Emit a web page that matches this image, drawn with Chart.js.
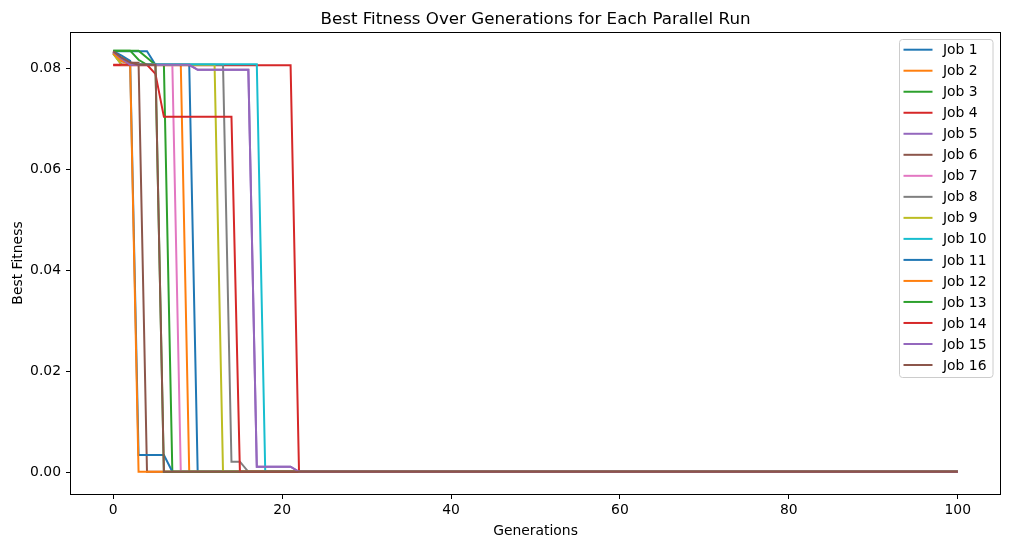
<!DOCTYPE html>
<html>
<head>
<meta charset="utf-8">
<title>Best Fitness Over Generations</title>
<script src="https://cdn.jsdelivr.net/npm/chart.js@4.4.0/dist/chart.umd.min.js"></script>
<style>
  html, body { margin: 0; padding: 0; background: #fff; }
  #wrap { width: 1010px; height: 547px; }
</style>
</head>
<body>
<div id="wrap"><canvas id="fitnessChart" width="1010" height="547"></canvas></div>
<script>
// best fitness per generation (gens 0..22), after that every run stays flat to gen 100
const lastGeneration = 100;
const job1  = [0.0835, 0.0835, 0.0835, 0.0835, 0.0835, 0.0808, 0.0808, 0.0808, 0.0808, 0.0808, 0.0002, 0.0002, 0.0002, 0.0002, 0.0002, 0.0002, 0.0002, 0.0002, 0.0002, 0.0002, 0.0002, 0.0002, 0.0002];
const job2  = [0.0833, 0.0818, 0.0808, 0.0808, 0.0808, 0.0808, 0.0808, 0.0808, 0.0808, 0.0002, 0.0002, 0.0002, 0.0002, 0.0002, 0.0002, 0.0002, 0.0002, 0.0002, 0.0002, 0.0002, 0.0002, 0.0002, 0.0002];
const job3  = [0.0836, 0.0836, 0.0836, 0.0836, 0.0822, 0.0808, 0.0808, 0.0002, 0.0002, 0.0002, 0.0002, 0.0002, 0.0002, 0.0002, 0.0002, 0.0002, 0.0002, 0.0002, 0.0002, 0.0002, 0.0002, 0.0002, 0.0002];
const job4  = [0.0807, 0.0807, 0.0807, 0.0807, 0.0807, 0.0807, 0.0807, 0.0807, 0.0807, 0.0807, 0.0807, 0.0807, 0.0807, 0.0807, 0.0807, 0.0807, 0.0807, 0.0807, 0.0807, 0.0807, 0.0807, 0.0807, 0.0002];
const job5  = [0.0832, 0.0818, 0.0808, 0.0808, 0.0808, 0.0808, 0.0808, 0.0808, 0.0808, 0.0808, 0.0798, 0.0798, 0.0798, 0.0798, 0.0798, 0.0798, 0.0798, 0.0012, 0.0012, 0.0012, 0.0012, 0.0012, 0.0002];
const job6  = [0.0834, 0.0815, 0.0812, 0.0812, 0.0002, 0.0002, 0.0002, 0.0002, 0.0002, 0.0002, 0.0002, 0.0002, 0.0002, 0.0002, 0.0002, 0.0002, 0.0002, 0.0002, 0.0002, 0.0002, 0.0002, 0.0002, 0.0002];
const job7  = [0.0832, 0.0808, 0.0808, 0.0808, 0.0808, 0.0808, 0.0808, 0.0808, 0.0002, 0.0002, 0.0002, 0.0002, 0.0002, 0.0002, 0.0002, 0.0002, 0.0002, 0.0002, 0.0002, 0.0002, 0.0002, 0.0002, 0.0002];
const job8  = [0.0830, 0.0808, 0.0808, 0.0808, 0.0808, 0.0808, 0.0808, 0.0808, 0.0808, 0.0808, 0.0808, 0.0808, 0.0808, 0.0808, 0.0022, 0.0022, 0.0002, 0.0002, 0.0002, 0.0002, 0.0002, 0.0002, 0.0002];
const job9  = [0.0830, 0.0808, 0.0808, 0.0808, 0.0808, 0.0808, 0.0808, 0.0808, 0.0808, 0.0808, 0.0808, 0.0808, 0.0808, 0.0002, 0.0002, 0.0002, 0.0002, 0.0002, 0.0002, 0.0002, 0.0002, 0.0002, 0.0002];
const job10 = [0.0832, 0.0820, 0.0809, 0.0809, 0.0809, 0.0809, 0.0809, 0.0809, 0.0809, 0.0809, 0.0809, 0.0809, 0.0809, 0.0809, 0.0809, 0.0809, 0.0809, 0.0809, 0.0002, 0.0002, 0.0002, 0.0002, 0.0002];
const job11 = [0.0835, 0.0826, 0.0816, 0.0035, 0.0035, 0.0035, 0.0035, 0.0002, 0.0002, 0.0002, 0.0002, 0.0002, 0.0002, 0.0002, 0.0002, 0.0002, 0.0002, 0.0002, 0.0002, 0.0002, 0.0002, 0.0002, 0.0002];
const job12 = [0.0831, 0.0816, 0.0810, 0.0002, 0.0002, 0.0002, 0.0002, 0.0002, 0.0002, 0.0002, 0.0002, 0.0002, 0.0002, 0.0002, 0.0002, 0.0002, 0.0002, 0.0002, 0.0002, 0.0002, 0.0002, 0.0002, 0.0002];
const job13 = [0.0836, 0.0836, 0.0836, 0.0818, 0.0808, 0.0808, 0.0002, 0.0002, 0.0002, 0.0002, 0.0002, 0.0002, 0.0002, 0.0002, 0.0002, 0.0002, 0.0002, 0.0002, 0.0002, 0.0002, 0.0002, 0.0002, 0.0002];
const job14 = [0.0808, 0.0808, 0.0808, 0.0808, 0.0808, 0.0790, 0.0705, 0.0705, 0.0705, 0.0705, 0.0705, 0.0705, 0.0705, 0.0705, 0.0705, 0.0002, 0.0002, 0.0002, 0.0002, 0.0002, 0.0002, 0.0002, 0.0002];
const job15 = [0.0834, 0.0820, 0.0808, 0.0808, 0.0808, 0.0808, 0.0808, 0.0808, 0.0808, 0.0808, 0.0798, 0.0798, 0.0798, 0.0798, 0.0798, 0.0798, 0.0798, 0.0012, 0.0012, 0.0012, 0.0012, 0.0012, 0.0002];
const job16 = [0.0835, 0.0822, 0.0813, 0.0808, 0.0808, 0.0808, 0.0002, 0.0002, 0.0002, 0.0002, 0.0002, 0.0002, 0.0002, 0.0002, 0.0002, 0.0002, 0.0002, 0.0002, 0.0002, 0.0002, 0.0002, 0.0002, 0.0002];

const jobs = [job1, job2, job3, job4, job5, job6, job7, job8, job9, job10, job11, job12, job13, job14, job15, job16];
const jobLabels = jobs.map((_, i) => 'Job ' + (i + 1));
const xTicks = [0, 20, 40, 60, 80, 100];
const yTicks = [0.00, 0.02, 0.04, 0.06, 0.08];

// matplotlib tab10 cycle
const colorList = ['#1f77b4', '#ff7f0e', '#2ca02c', '#d62728', '#9467bd',
                   '#8c564b', '#e377c2', '#7f7f7f', '#bcbd22', '#17becf'];

const FONT = "'DejaVu Sans', 'Liberation Sans', sans-serif";

const datasets = jobs.map((values, i) => {
    const points = values.map((v, gen) => ({ x: gen, y: v }));
    points.push({ x: lastGeneration, y: values[values.length - 1] });
    return {
        label: jobLabels[i],
        data: points,
        borderColor: colorList[i % colorList.length],
        backgroundColor: colorList[i % colorList.length],
        borderWidth: 2,
        pointRadius: 0,
        tension: 0,
        fill: false,
        order: jobs.length - i // job 1 drawn first, job 16 on top
    };
});

// frame, title, axis labels and legend drawn the matplotlib way
const decorPlugin = {
    id: 'decor',
    afterDraw(chart) {
        const ctx = chart.ctx;
        const a = chart.chartArea;
        ctx.save();

        ctx.strokeStyle = '#000';
        ctx.lineWidth = 1;
        ctx.strokeRect(a.left - 0.5, a.top + 0.5, a.right - a.left + 1, a.bottom - a.top);

        ctx.fillStyle = '#000';
        ctx.textAlign = 'center';
        ctx.textBaseline = 'alphabetic';
        ctx.font = '16.7px ' + FONT;
        ctx.fillText('Best Fitness Over Generations for Each Parallel Run', (a.left + a.right) / 2, 24);

        ctx.font = '13.9px ' + FONT;
        ctx.fillText('Generations', (a.left + a.right) / 2, 535);

        ctx.save();
        ctx.translate(22, (a.top + a.bottom) / 2);
        ctx.rotate(-Math.PI / 2);
        ctx.fillText('Best Fitness', 0, 0);
        ctx.restore();

        // legend box, upper right inside the axes
        const bw = 93.5, bh = 338;
        const bx = a.right - 7 - bw, by = a.top + 7.5;
        ctx.beginPath();
        ctx.roundRect(bx, by, bw, bh, 3);
        ctx.fillStyle = 'rgba(255,255,255,0.8)';
        ctx.fill();
        ctx.strokeStyle = '#cccccc';
        ctx.lineWidth = 1;
        ctx.stroke();

        ctx.textAlign = 'left';
        ctx.textBaseline = 'middle';
        jobLabels.forEach((label, i) => {
            const y = by + 10.2 + i * 21.02;
            ctx.strokeStyle = colorList[i % colorList.length];
            ctx.lineWidth = 2;
            ctx.beginPath();
            ctx.moveTo(bx + 4, y);
            ctx.lineTo(bx + 33, y);
            ctx.stroke();
            ctx.fillStyle = '#000';
            ctx.fillText(label, bx + 43.5, y + 1);
        });

        ctx.restore();
    }
};

new Chart(document.getElementById('fitnessChart').getContext('2d'), {
    type: 'line',
    data: { datasets: datasets },
    options: {
        responsive: false,
        animation: false,
        devicePixelRatio: 1,
        layout: { padding: { top: 32, right: 10, left: 0, bottom: 0 } },
        plugins: {
            legend: { display: false },
            title: { display: false },
            tooltip: { enabled: false }
        },
        scales: {
            x: {
                type: 'linear',
                min: -5,
                max: 105,
                afterBuildTicks: axis => { axis.ticks = xTicks.map(v => ({ value: v })); },
                afterFit: scale => { scale.height = 53; },
                grid: { display: true, drawOnChartArea: false, drawTicks: true, tickLength: 5, color: '#000' },
                border: { display: false },
                ticks: { color: '#000', font: { family: FONT, size: 13.9 }, padding: 3, maxRotation: 0 }
            },
            y: {
                type: 'linear',
                min: -0.0042,
                max: 0.0873,
                afterBuildTicks: axis => { axis.ticks = yTicks.map(v => ({ value: v })); },
                afterFit: scale => { scale.width = 71; },
                grid: { display: true, drawOnChartArea: false, drawTicks: true, tickLength: 5, color: '#000' },
                border: { display: false },
                ticks: {
                    color: '#000',
                    font: { family: FONT, size: 13.9 },
                    padding: 5,
                    callback: value => Number(value).toFixed(2)
                }
            }
        }
    },
    plugins: [decorPlugin]
});
</script>
</body>
</html>
